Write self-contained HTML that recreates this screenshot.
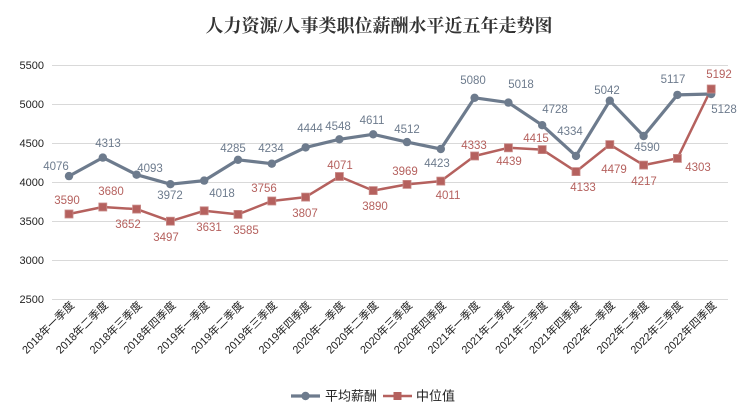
<!DOCTYPE html>
<html><head><meta charset="utf-8"><style>
body{margin:0;background:#fff}
svg{display:block;font-family:"Liberation Sans","Noto Sans CJK SC",sans-serif}
.a{fill:#6d7b8d;font-size:11.5px;text-anchor:middle;dominant-baseline:middle}
.m{fill:#b5615e;font-size:11.5px;text-anchor:middle;dominant-baseline:middle}
.y{fill:#222;font-size:11px;text-anchor:end;dominant-baseline:middle}
.x{fill:#222;font-size:11px;text-anchor:end}
</style></head><body>
<svg width="754" height="412" viewBox="0 0 754 412">
<rect width="754" height="412" fill="#fff"/>
<text x="379" y="32" text-anchor="middle" font-family="Liberation Serif,'Noto Serif CJK SC',serif" font-weight="bold" font-size="18" fill="#333">人力资源/人事类职位薪酬水平近五年走势图</text>
<g stroke="#d9d9d9" stroke-width="1">
<line x1="52" x2="728" y1="65.5" y2="65.5"/><line x1="52" x2="728" y1="104.5" y2="104.5"/><line x1="52" x2="728" y1="143.5" y2="143.5"/><line x1="52" x2="728" y1="182.5" y2="182.5"/><line x1="52" x2="728" y1="221.5" y2="221.5"/><line x1="52" x2="728" y1="260.5" y2="260.5"/><line x1="52" x2="728" y1="299.5" y2="299.5"/>
</g>
<g class="y"><text x="44" y="66">5500</text><text x="44" y="105">5000</text><text x="44" y="144">4500</text><text x="44" y="183">4000</text><text x="44" y="222">3500</text><text x="44" y="261">3000</text><text x="44" y="300">2500</text></g>
<g class="x">
<text transform="translate(75,306) rotate(-45)">2018年一季度</text>
<text transform="translate(108.8,306) rotate(-45)">2018年二季度</text>
<text transform="translate(142.6,306) rotate(-45)">2018年三季度</text>
<text transform="translate(176.4,306) rotate(-45)">2018年四季度</text>
<text transform="translate(210.2,306) rotate(-45)">2019年一季度</text>
<text transform="translate(244,306) rotate(-45)">2019年二季度</text>
<text transform="translate(277.8,306) rotate(-45)">2019年三季度</text>
<text transform="translate(311.6,306) rotate(-45)">2019年四季度</text>
<text transform="translate(345.4,306) rotate(-45)">2020年一季度</text>
<text transform="translate(379.2,306) rotate(-45)">2020年二季度</text>
<text transform="translate(413,306) rotate(-45)">2020年三季度</text>
<text transform="translate(446.8,306) rotate(-45)">2020年四季度</text>
<text transform="translate(480.6,306) rotate(-45)">2021年一季度</text>
<text transform="translate(514.4,306) rotate(-45)">2021年二季度</text>
<text transform="translate(548.2,306) rotate(-45)">2021年三季度</text>
<text transform="translate(582,306) rotate(-45)">2021年四季度</text>
<text transform="translate(615.8,306) rotate(-45)">2022年一季度</text>
<text transform="translate(649.6,306) rotate(-45)">2022年二季度</text>
<text transform="translate(683.4,306) rotate(-45)">2022年三季度</text>
<text transform="translate(717.2,306) rotate(-45)">2022年四季度</text>
</g>
<polyline fill="none" stroke="#b5615e" stroke-width="2.5" stroke-linejoin="round" points="69,214 102.8,207 136.6,209.1 170.4,221.2 204.2,210.8 238,214.4 271.8,201 305.6,197.1 339.4,176.5 373.2,190.6 407,184.4 440.8,181.1 474.6,156 508.4,147.8 542.2,149.6 576,171.6 609.8,144.6 643.6,165.1 677.4,158.4 711.2,89"/>
<polyline fill="none" stroke="#6d7b8d" stroke-width="3.2" stroke-linejoin="round" points="69,176.1 102.8,157.6 136.6,174.7 170.4,184.2 204.2,180.6 238,159.8 271.8,163.7 305.6,147.4 339.4,139.3 373.2,134.3 407,142.1 440.8,149 474.6,97.8 508.4,102.6 542.2,125.2 576,155.9 609.8,100.7 643.6,136 677.4,94.9 711.2,94"/>
<g fill="#6d7b8d">
<circle cx="69" cy="176.1" r="4.2"/><circle cx="102.8" cy="157.6" r="4.2"/><circle cx="136.6" cy="174.7" r="4.2"/><circle cx="170.4" cy="184.2" r="4.2"/><circle cx="204.2" cy="180.6" r="4.2"/><circle cx="238" cy="159.8" r="4.2"/><circle cx="271.8" cy="163.7" r="4.2"/><circle cx="305.6" cy="147.4" r="4.2"/><circle cx="339.4" cy="139.3" r="4.2"/><circle cx="373.2" cy="134.3" r="4.2"/><circle cx="407" cy="142.1" r="4.2"/><circle cx="440.8" cy="149" r="4.2"/><circle cx="474.6" cy="97.8" r="4.2"/><circle cx="508.4" cy="102.6" r="4.2"/><circle cx="542.2" cy="125.2" r="4.2"/><circle cx="576" cy="155.9" r="4.2"/><circle cx="609.8" cy="100.7" r="4.2"/><circle cx="643.6" cy="136" r="4.2"/><circle cx="677.4" cy="94.9" r="4.2"/><circle cx="711.2" cy="94" r="4.2"/>
</g>
<g fill="#b5615e" stroke="#c98a88" stroke-width="0.8">
<rect x="65" y="210" width="8" height="8"/><rect x="98.8" y="203" width="8" height="8"/><rect x="132.6" y="205.1" width="8" height="8"/><rect x="166.4" y="217.2" width="8" height="8"/><rect x="200.2" y="206.8" width="8" height="8"/><rect x="234" y="210.4" width="8" height="8"/><rect x="267.8" y="197" width="8" height="8"/><rect x="301.6" y="193.1" width="8" height="8"/><rect x="335.4" y="172.5" width="8" height="8"/><rect x="369.2" y="186.6" width="8" height="8"/><rect x="403" y="180.4" width="8" height="8"/><rect x="436.8" y="177.1" width="8" height="8"/><rect x="470.6" y="152" width="8" height="8"/><rect x="504.4" y="143.8" width="8" height="8"/><rect x="538.2" y="145.6" width="8" height="8"/><rect x="572" y="167.6" width="8" height="8"/><rect x="605.8" y="140.6" width="8" height="8"/><rect x="639.6" y="161.1" width="8" height="8"/><rect x="673.4" y="154.4" width="8" height="8"/><rect x="707.2" y="85" width="8" height="8"/>
</g>
<g class="a">
<text x="56" y="167">4076</text><text x="108" y="144">4313</text><text x="150" y="169">4093</text><text x="170" y="196">3972</text><text x="222" y="194">4018</text><text x="233" y="149">4285</text><text x="271" y="149">4234</text><text x="310" y="129">4444</text><text x="338" y="127">4548</text><text x="372" y="121">4611</text><text x="407" y="130">4512</text><text x="437" y="164">4423</text><text x="473" y="81">5080</text><text x="521" y="85">5018</text><text x="555" y="110">4728</text><text x="570" y="132">4334</text><text x="607" y="91">5042</text><text x="647" y="148">4590</text><text x="673" y="80">5117</text><text x="724" y="110">5128</text>
</g>
<g class="m">
<text x="67" y="201">3590</text><text x="111" y="192">3680</text><text x="128" y="225">3652</text><text x="166" y="238">3497</text><text x="209" y="228">3631</text><text x="246" y="231">3585</text><text x="264" y="189">3756</text><text x="305" y="214">3807</text><text x="340" y="166">4071</text><text x="375" y="207">3890</text><text x="405" y="172">3969</text><text x="448" y="196">4011</text><text x="474" y="146">4333</text><text x="509" y="162">4439</text><text x="536" y="139">4415</text><text x="583" y="188">4133</text><text x="614" y="170">4479</text><text x="644" y="182">4217</text><text x="698" y="168">4303</text><text x="719" y="75">5192</text>
</g>
<line x1="291" x2="320" y1="396" y2="396" stroke="#6d7b8d" stroke-width="3.2"/>
<circle cx="305.5" cy="396" r="4.2" fill="#6d7b8d"/>
<text x="325" y="400.5" font-size="13" fill="#222">平均薪酬</text>
<line x1="383" x2="412" y1="396" y2="396" stroke="#b5615e" stroke-width="2.5"/>
<rect x="393.5" y="392" width="8" height="8" fill="#b5615e"/>
<text x="416" y="400.5" font-size="13" fill="#222">中位值</text>
</svg>
</body></html>
